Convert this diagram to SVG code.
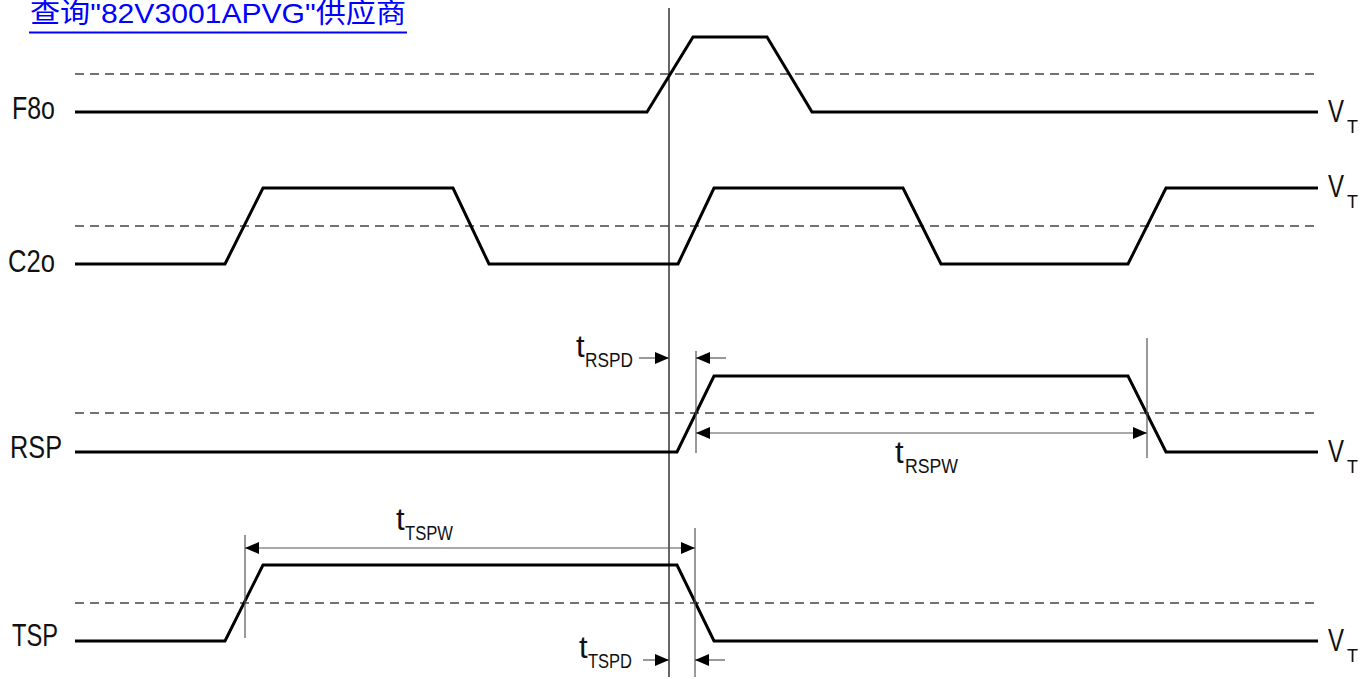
<svg xmlns="http://www.w3.org/2000/svg" width="1372" height="679" viewBox="0 0 1372 679">
<style>
.sig{fill:none;stroke:#000;stroke-width:3;stroke-linejoin:miter}
.th{fill:none;stroke:#444;stroke-width:1.3;stroke-dasharray:9 6}
.ref{stroke:#000;stroke-width:1.2}
.ext{stroke:#555;stroke-width:1.2}
.dim{stroke:#555;stroke-width:1.2;fill:none}
.lbl{font-family:"Liberation Sans Narrow","Liberation Sans",Arial,sans-serif;font-size:31px;fill:#111}
.sub{font-family:"Liberation Sans Narrow","Liberation Sans",Arial,sans-serif;font-size:20px;fill:#111}
.vt{font-family:"Liberation Sans Narrow","Liberation Sans",Arial,sans-serif;font-size:18px;fill:#111}
.link{font-family:"Liberation Sans",Arial,"Noto Sans CJK SC",sans-serif;font-size:28px;fill:#0000ff}
</style>
<defs>
<marker id="ah" markerUnits="userSpaceOnUse" markerWidth="14" markerHeight="12" refX="14" refY="6" orient="auto">
<path d="M0,0 L14,6 L0,12 z" fill="#000"/>
</marker>
</defs>
<rect width="1372" height="679" fill="#fff"/>
<g id="title">
<text class="link" x="30" y="23" textLength="376" lengthAdjust="spacingAndGlyphs">查询"82V3001APVG"供应商</text>
<rect x="29" y="31.5" width="378" height="2" fill="#0000ff"/>
</g>
<g id="ref-line">
<line class="ref" x1="669" y1="8" x2="669" y2="677"/>
</g>
<g id="F8o">
<line class="th" x1="75" y1="74" x2="1318" y2="74"/>
<polyline class="sig" points="75,112 647,112 693,37 767,37 812,112 1318,112"/>
<text class="lbl" x="12" y="119" textLength="43" lengthAdjust="spacingAndGlyphs">F8o</text>
<text class="lbl" x="1328" y="122" textLength="16" lengthAdjust="spacingAndGlyphs">V</text>
<text class="vt" x="1347" y="133">T</text>
</g>
<g id="C2o">
<line class="th" x1="75" y1="226" x2="1318" y2="226"/>
<polyline class="sig" points="75,264 225,264 263,188 453,188 489,264 678,264 714,188 903,188 941,264 1128,264 1166,188 1318,188"/>
<text class="lbl" x="8" y="272" textLength="47" lengthAdjust="spacingAndGlyphs">C2o</text>
<text class="lbl" x="1328" y="197" textLength="16" lengthAdjust="spacingAndGlyphs">V</text>
<text class="vt" x="1347" y="208">T</text>
</g>
<g id="RSP">
<line class="th" x1="75" y1="413" x2="1318" y2="413"/>
<polyline class="sig" points="75,452 677,452 714,376 1128,376 1166,452 1318,452"/>
<text class="lbl" x="10" y="458" textLength="52" lengthAdjust="spacingAndGlyphs">RSP</text>
<text class="lbl" x="1328" y="462" textLength="16" lengthAdjust="spacingAndGlyphs">V</text>
<text class="vt" x="1347" y="473">T</text>
</g>
<g id="TSP">
<line class="th" x1="75" y1="603" x2="1318" y2="603"/>
<polyline class="sig" points="75,641 225,641 263,565 677,565 714,641 1318,641"/>
<text class="lbl" x="12" y="646" textLength="46" lengthAdjust="spacingAndGlyphs">TSP</text>
<text class="lbl" x="1328" y="651" textLength="16" lengthAdjust="spacingAndGlyphs">V</text>
<text class="vt" x="1347" y="662">T</text>
</g>
<g id="connectors">
<line class="ext" x1="696" y1="351" x2="696" y2="453"/>
<line class="ext" x1="1147" y1="338" x2="1147" y2="458"/>
<line class="ext" x1="245" y1="535" x2="245" y2="638"/>
<line class="ext" x1="695" y1="528" x2="695" y2="677"/>
<line class="dim" x1="639" y1="358" x2="669" y2="358" marker-end="url(#ah)"/>
<line class="dim" x1="726" y1="358" x2="696" y2="358" marker-end="url(#ah)"/>
<line class="dim" x1="900" y1="433" x2="696" y2="433" marker-end="url(#ah)"/>
<line class="dim" x1="900" y1="433" x2="1147" y2="433" marker-end="url(#ah)"/>
<line class="dim" x1="470" y1="548" x2="245" y2="548" marker-end="url(#ah)"/>
<line class="dim" x1="470" y1="548" x2="695" y2="548" marker-end="url(#ah)"/>
<line class="dim" x1="643" y1="660" x2="669" y2="660" marker-end="url(#ah)"/>
<line class="dim" x1="725" y1="660" x2="695" y2="660" marker-end="url(#ah)"/>
</g>
<g id="labels">
<text class="lbl" x="576" y="357">t</text>
<text class="sub" x="585" y="367" textLength="48" lengthAdjust="spacingAndGlyphs">RSPD</text>
<text class="lbl" x="895" y="463">t</text>
<text class="sub" x="905" y="473" textLength="53" lengthAdjust="spacingAndGlyphs">RSPW</text>
<text class="lbl" x="396" y="530">t</text>
<text class="sub" x="405" y="540" textLength="48" lengthAdjust="spacingAndGlyphs">TSPW</text>
<text class="lbl" x="579" y="658">t</text>
<text class="sub" x="588" y="668" textLength="44" lengthAdjust="spacingAndGlyphs">TSPD</text>
</g>
</svg>
